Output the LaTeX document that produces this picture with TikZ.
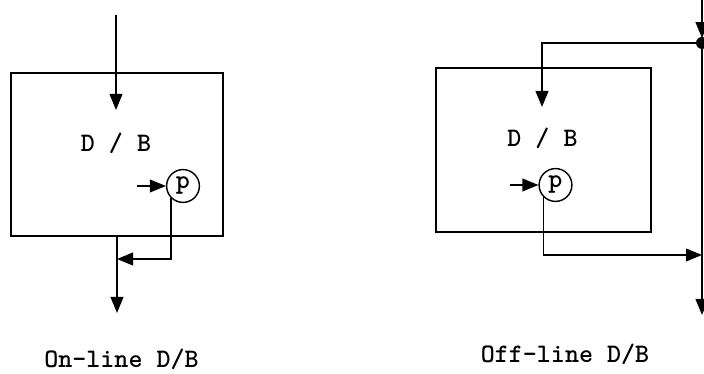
\documentclass[tikz,border=0pt]{standalone}
\usepackage{tikz}
\usetikzlibrary{arrows.meta,positioning}

\begin{document}
\begin{tikzpicture}[
      x=0.25mm,y=0.25mm,>={Triangle[length=4mm,width=3.2mm]},line width=1pt,
      dbbox/.style={draw,rectangle,inner sep=0pt},
      dblabel/.style={font=\fontsize{19}{22}\ttfamily\bfseries,inner sep=0pt},
      pnode/.style={draw,circle,minimum size=8.2mm,inner sep=0pt,font=\fontsize{19}{22}\ttfamily\bfseries},
      caption/.style={font=\fontsize{19}{22}\ttfamily\bfseries,inner sep=0pt,anchor=base}]
    \useasboundingbox (0,0) rectangle (704,374);
    % on-line
    \node[dbbox,minimum width=53mm,minimum height=40.75mm] (lbox) at (117,219.5) {};
    \node[dblabel] (lt) at (116,231) {D / B};
    \node[pnode] (lp) at (183,188) {p};
    \coordinate (lin) at (116,359);
    \coordinate (ltip) at (116,264);
    \coordinate (lpin) at (137,188);
    \coordinate (ljoin) at (117,115);
    \coordinate (lout) at (117,61);
    \draw[->] (lin) -- (ltip);
    \draw[->] (lpin) -- (lp);
    \draw[->] (lbox.south) -- (lout);
    \draw[->] (lp.south west) |- (ljoin);
    \node[caption] (lcap) at (121.5,6) {On-line D/B};
    % off-line
    \node[dbbox,minimum width=53.75mm,minimum height=41mm] (rbox) at (543.5,224) {};
    \node[dblabel] (rt) at (542.5,236) {D / B};
    \node[pnode] (rp) at (555.5,189) {p};
    \coordinate (btop) at (702,380);
    \coordinate (bjoin) at (702,331);
    \coordinate (bout) at (702,59);
    \coordinate (rtip) at (542,267);
    \coordinate (rpin) at (510,189);
    \coordinate (bfb) at (702,119);
    \draw[->,shorten >=1.2mm] (btop) -- (bjoin);
    \fill (bjoin) circle (1.5mm);
    \draw[->] (bjoin) -| (rtip);
    \draw[->] (bjoin) -- (bout);
    \draw[->] (rpin) -- (rp);
    \draw[->] (rp.south west) |- (bfb);
    \node[caption] (rcap) at (565,11) {Off-line D/B};
  \end{tikzpicture}
\end{document}
